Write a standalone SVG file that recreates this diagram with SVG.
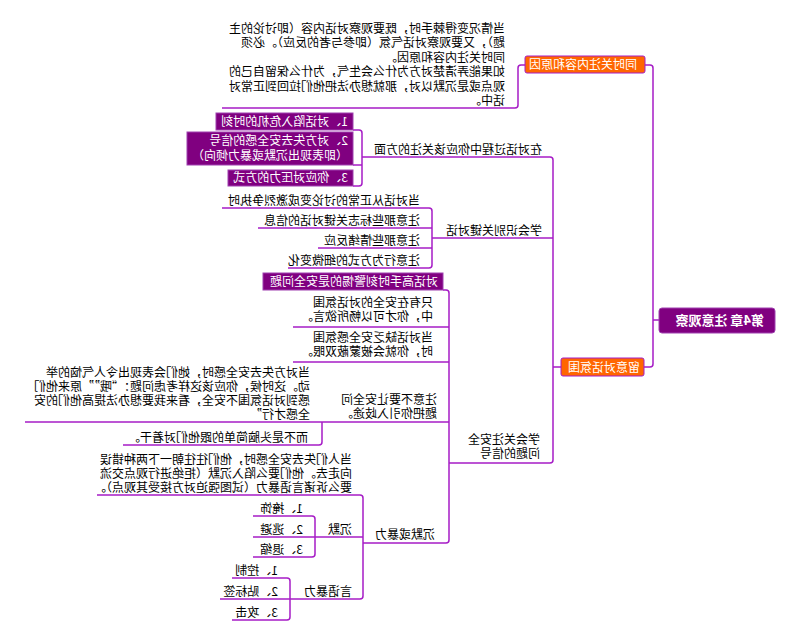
<svg xmlns="http://www.w3.org/2000/svg" width="800" height="641" viewBox="0 0 800 641">
<style>
text{font-family:"Noto Sans CJK SC","Noto Sans",sans-serif;font-size:12px;fill:#000}
.w{fill:#fff}
.root{font-size:13px;font-weight:bold}
.ln{fill:none;stroke:#a61cc6;stroke-width:1.5}
.org{fill:#ff6600;stroke:#a61cc6;stroke-width:1}
.pur{fill:#800080;stroke:#a040b0;stroke-width:1}
</style>
<rect width="800" height="641" fill="#fff"/>
<g transform="matrix(-1 0 0 1 800 0)">
<g id="connectors" class="ln">
<path d="M141 320H147"/>
<path d="M155 65H150Q147 65 147 68V364Q147 367 150 367H156"/>
<path d="M275 65H279Q282 65 282 68V105Q282 108 285 108H578"/>
<path d="M239 367H247"/>
<path d="M438 157H250Q247 157 247 160V460Q247 463 250 463H351"/>
<path d="M447 130H441Q438 130 438 133V183Q438 186 441 186H447"/>
<path d="M438 165H447"/>
<path d="M247 238H368"/>
<path d="M578 208H371Q368 208 368 211V265Q368 268 371 268H512"/>
<path d="M368 228H542"/>
<path d="M368 248H482"/>
<path d="M357 290H354Q351 290 351 293V540Q351 543 354 543H437"/>
<path d="M351 327H507"/>
<path d="M351 362H507"/>
<path d="M351 422H775"/>
<path d="M478 422V442Q478 445 481 445H677"/>
<path d="M703 495H440Q437 495 437 498V596Q437 599 440 599H580"/>
<path d="M437 537H547"/>
<path d="M547 516H488Q485 516 485 519V554Q485 557 488 557H547"/>
<path d="M568 578H513Q510 578 510 581V617Q510 620 513 620H568"/>
</g>
<g id="root">
<rect class="pur" x="25" y="308" width="116" height="25" rx="3"/>
<text class="w root" x="36" y="325">第4章 注意观察</text>
</g>
<g id="b1">
<rect class="org" x="155" y="56" width="120" height="17" rx="2"/>
<text class="w" x="163" y="69">同时关注内容和原因</text>
</g>
<g id="b1c1">
<text x="295" y="33"><tspan x="295">当情况变得棘手时，既要观察对话内容（即讨论的主</tspan><tspan x="295" dy="14.4">题），又要观察对话气氛（即参与者的反应）。必须</tspan><tspan x="295" dy="14.4">同时关注内容和原因。</tspan><tspan x="295" dy="14.4">如果能弄清楚对方为什么会生气，为什么保留自己的</tspan><tspan x="295" dy="14.4">观点或是沉默以对，那就想办法把他们拉回到正常对</tspan><tspan x="295" dy="14.4">话中。</tspan></text>
</g>
<g id="b2">
<rect class="org" x="156" y="358" width="83" height="18" rx="2"/>
<text class="w" x="160" y="372">留意对话氛围</text>
</g>
<g id="n1"><text x="258" y="154">在对话过程中你应该关注的方面</text></g>
<g id="n1a">
<rect class="pur" x="447" y="113" width="137" height="17"/>
<text class="w" x="452" y="126">1、对话陷入危机的时刻</text>
</g>
<g id="n1b">
<rect class="pur" x="447" y="132" width="166" height="33"/>
<text class="w" x="452" y="145"><tspan x="452">2、对方失去安全感的信号</tspan><tspan x="452" dy="15">（即表现出沉默或暴力倾向）</tspan></text>
</g>
<g id="n1c">
<rect class="pur" x="447" y="170" width="125" height="16"/>
<text class="w" x="452" y="182">3、你应对压力的方式</text>
</g>
<g id="n2"><text x="258" y="235">学会识别关键对话</text></g>
<g id="n2a"><text x="380" y="205">当对话从正常的讨论变成激烈争执时</text></g>
<g id="n2b"><text x="380" y="225">注意那些标志关键对话的信息</text></g>
<g id="n2c"><text x="380" y="245">注意那些情绪反应</text></g>
<g id="n2d"><text x="380" y="265">注意行为方式的细微变化</text></g>
<g id="n3">
<text x="260" y="444"><tspan x="260">学会关注安全</tspan><tspan x="260" dy="14">问题的信号</tspan></text>
</g>
<g id="n3a">
<rect class="pur" x="357" y="273" width="180" height="17"/>
<text class="w" x="362" y="286">对话高手时刻警惕的是安全问题</text>
</g>
<g id="n3b">
<text x="367" y="307"><tspan x="367">只有在安全的对话氛围</tspan><tspan x="367" dy="14">中，你才可以畅所欲言。</tspan></text>
</g>
<g id="n3c">
<text x="367" y="342"><tspan x="367">当对话缺乏安全感氛围</tspan><tspan x="367" dy="14">时，你就会被蒙蔽双眼。</tspan></text>
</g>
<g id="n3d">
<text x="363" y="404"><tspan x="363">注意不要让安全问</tspan><tspan x="363" dy="14">题把你引入歧途。</tspan></text>
</g>
<g id="n3d1">
<text x="490" y="377"><tspan x="490">当对方失去安全感时，她们会表现出令人气恼的举</tspan><tspan x="490" dy="14">动。这时候，你应该这样考虑问题：“哦””原来他们</tspan><tspan x="490" dy="14">感到对话氛围不安全，看来我要想办法提高他们的安</tspan><tspan x="490" dy="14">全感才行”</tspan></text>
</g>
<g id="n3d2"><text x="492" y="442">而不是头脑简单的跟他们对着干。</text></g>
<g id="n3e"><text x="365" y="539">沉默或暴力</text></g>
<g id="n3e1">
<text x="448" y="464"><tspan x="448">当人们失去安全感时，他们往往朝一下两种错误</tspan><tspan x="448" dy="14">向走去。他们要么陷入沉默（拒绝进行观点交流</tspan><tspan x="448" dy="14">要么诉诸言语暴力（试图强迫对方接受其观点）。</tspan></text>
</g>
<g id="n3e2"><text x="448" y="534">沉默</text></g>
<g id="s1"><text x="497" y="513">1、掩饰</text></g>
<g id="s2"><text x="497" y="534">2、逃避</text></g>
<g id="s3"><text x="497" y="554">3、退缩</text></g>
<g id="n3e3"><text x="448" y="596">言语暴力</text></g>
<g id="v1"><text x="522" y="575">1、控制</text></g>
<g id="v2"><text x="522" y="596">2、贴标签</text></g>
<g id="v3"><text x="522" y="617">3、攻击</text></g>
</g>
</svg>
